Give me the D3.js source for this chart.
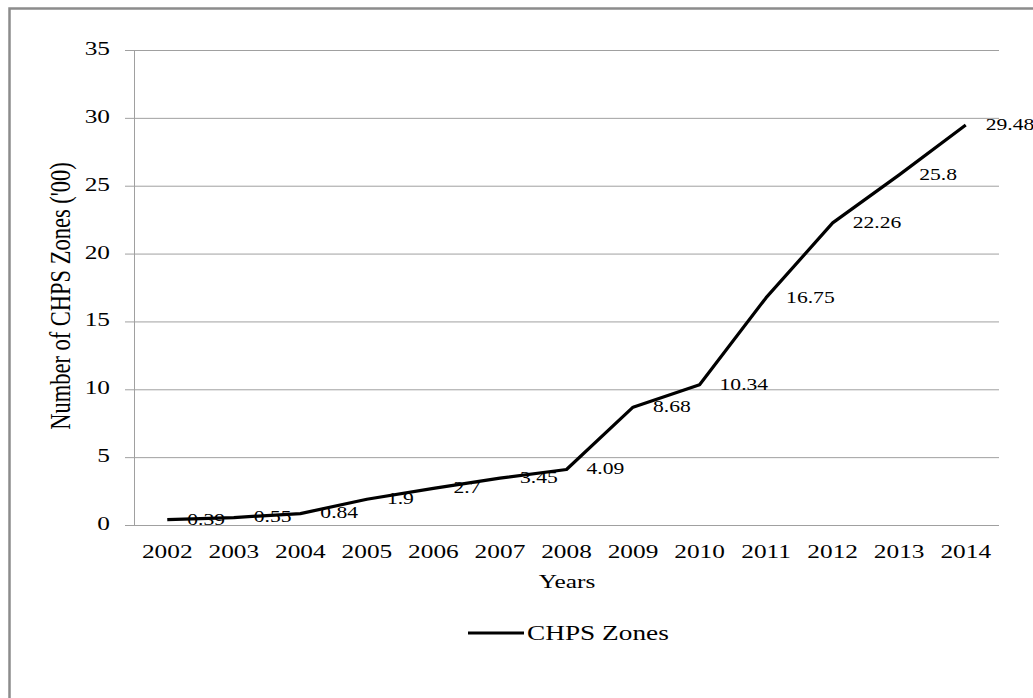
<!DOCTYPE html>
<html>
<head>
<meta charset="utf-8">
<script src="https://cdn.jsdelivr.net/npm/d3@7"></script>
<style>
  body { margin: 0; background: #fff; }
  text { font-family: "Liberation Serif", "Times New Roman", serif; fill: #000; }
</style>
</head>
<body>
<div id="chart"></div>
<script>
let years = ["2002", "2003", "2004", "2005", "2006", "2007", "2008", "2009", "2010", "2011", "2012", "2013", "2014"];
let zones = [0.39, 0.55, 0.84, 1.9, 2.7, 3.45, 4.09, 8.68, 10.34, 16.75, 22.26, 25.8, 29.48];
let yTicks = [0, 5, 10, 15, 20, 25, 30, 35];

// the source picture is stretched sideways, so text is too
const SX = 1.3;
const width = 1033, height = 698;
const plot = { left: 134, right: 999, top: 50, bottom: 525 };

let svg = d3.select("#chart")
    .append("svg")
    .attr("width", width)
    .attr("height", height);

// outer frame (only top and left edges show in the crop)
svg.append("path")
    .attr("d", "M9.5," + height + "V8.5H" + width)
    .attr("fill", "none")
    .attr("stroke", "#8c8c8c")
    .attr("stroke-width", 2.5);

const x = d3.scaleBand().domain(years).range([plot.left, plot.right]);
const y = d3.scaleLinear().domain([0, 35]).range([plot.bottom, plot.top]);

// gridlines + y axis
let yAxis = svg.append("g")
    .attr("transform", "translate(" + plot.left + ",0)")
    .call(d3.axisLeft(y).tickValues(yTicks).tickSize(9).tickPadding(0))
    .call(g => g.select(".domain").remove());

yAxis.selectAll(".tick line").attr("stroke", "#a0a0a0");
yAxis.selectAll(".tick").append("line")
    .attr("x1", 0).attr("x2", plot.right - plot.left)
    .attr("stroke", "#a0a0a0");
yAxis.selectAll(".tick text")
    .attr("x", null).attr("dy", null)
    .attr("text-anchor", "end")
    .attr("dominant-baseline", "middle")
    .attr("transform", "translate(-24,0) scale(" + SX + ",1)")
    .style("font-size", "19.5px")
    .style("font-family", "Liberation Serif");

svg.append("line")
    .attr("x1", plot.left + 0.5).attr("x2", plot.left + 0.5)
    .attr("y1", plot.top).attr("y2", plot.bottom)
    .attr("stroke", "#a0a0a0");

// x labels
svg.append("g").selectAll("text")
    .data(years)
    .enter().append("text")
    .attr("text-anchor", "middle")
    .attr("transform", d => "translate(" + (x(d) + x.bandwidth() / 2) + ",558) scale(" + SX + ",1)")
    .style("font-size", "19.5px")
    .text(d => d);

// line
let line = d3.line()
    .x((d, i) => x(years[i]) + x.bandwidth() / 2)
    .y(d => y(d));

svg.append("path")
    .datum(zones)
    .attr("d", line)
    .attr("fill", "none")
    .attr("stroke", "#000")
    .attr("stroke-width", 3.2)
    .attr("stroke-linejoin", "round");

// data labels to the right of each point
svg.append("g").selectAll("text")
    .data(zones)
    .enter().append("text")
    .attr("dominant-baseline", "middle")
    .attr("transform", (d, i) => "translate(" + (x(years[i]) + x.bandwidth() / 2 + 20) + "," + (y(d) + 1) + ") scale(" + 1.27 + ",1)")
    .style("font-size", "17px")
    .text(d => d);

// axis titles
svg.append("text")
    .attr("text-anchor", "middle")
    .attr("transform", "translate(567,588) scale(" + SX + ",1)")
    .style("font-size", "19.5px")
    .text("Years");

svg.append("text")
    .attr("text-anchor", "middle")
    .attr("transform", "translate(70,296) scale(" + SX + ",1) rotate(-90)")
    .style("font-size", "22.5px")
    .text("Number of CHPS Zones ('00)");

// legend
svg.append("line")
    .attr("x1", 468).attr("x2", 524)
    .attr("y1", 633).attr("y2", 633)
    .attr("stroke", "#000")
    .attr("stroke-width", 3.2);

svg.append("text")
    .attr("transform", "translate(527,640) scale(" + SX + ",1)")
    .style("font-size", "21px")
    .text("CHPS Zones");
</script>
</body>
</html>
